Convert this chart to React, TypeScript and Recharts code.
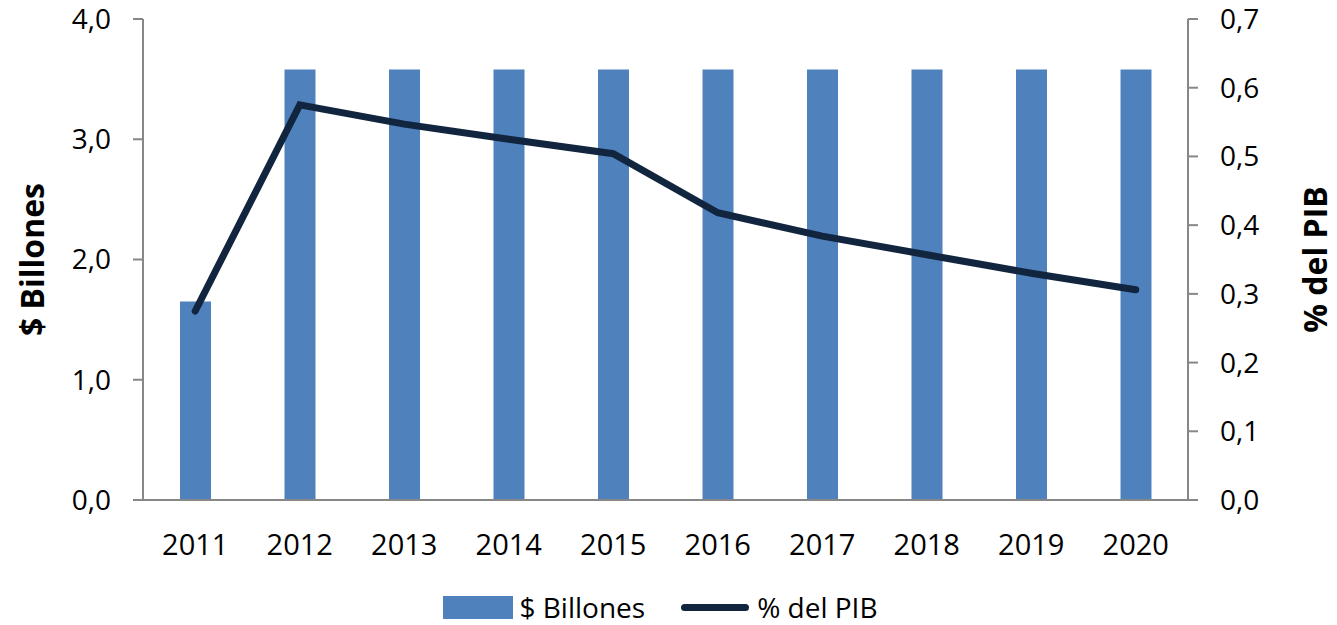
import React from "react";
import { ComposedChart, Bar, Line, XAxis, YAxis, Legend } from "recharts";

const years = ["2011", "2012", "2013", "2014", "2015", "2016", "2017", "2018", "2019", "2020"];
const billones = [1.65, 3.58, 3.58, 3.58, 3.58, 3.58, 3.58, 3.58, 3.58, 3.58];
const pib = [0.275, 0.575, 0.547, 0.525, 0.504, 0.418, 0.384, 0.357, 0.33, 0.306];
const leftTicks = [0, 1, 2, 3, 4];
const rightTicks = [0, 0.1, 0.2, 0.3, 0.4, 0.5, 0.6, 0.7];

const data = years.map((y, i) => ({ year: y, billones: billones[i], pib: pib[i] }));

const FONT = "'Open Sans', sans-serif";
const BAR = "#4F81BD";
const LINE = "#12253F";
const AXIS = "#878787";

const fmt = (v: number) => v.toFixed(1).replace(".", ",");

const LegendContent = () => (
  <div
    style={{
      display: "flex",
      justifyContent: "center",
      alignItems: "center",
      height: 50,
      boxSizing: "border-box",
      paddingTop: 14,
      fontFamily: FONT,
      fontSize: 28,
      color: "#000",
      paddingRight: 16,
    }}
  >
    <div style={{ width: 70, height: 23, background: BAR, marginRight: 6 }} />
    <span style={{ marginRight: 36 }}>$ Billones</span>
    <div style={{ width: 68, height: 7, borderRadius: 4, background: LINE, marginRight: 8 }} />
    <span>% del PIB</span>
  </div>
);

export default function App() {
  return (
    <div style={{ position: "absolute", left: 0, top: 0, width: 1337, height: 625, background: "#fff" }}>
      <ComposedChart
        width={1337}
        height={625}
        data={data}
        margin={{ top: 19, right: 0, bottom: 0, left: 0 }}
        barCategoryGap="35%"
      >
        <XAxis
          dataKey="year"
          tickLine={false}
          tickSize={0}
          tickMargin={34}
          height={75}
          axisLine={{ stroke: AXIS, strokeWidth: 2 }}
          tick={{ fill: "#000", fontSize: 29, fontFamily: FONT }}
          interval={0}
        />
        <YAxis
          yAxisId="left"
          orientation="left"
          width={143}
          domain={[0, 4]}
          ticks={leftTicks}
          tickFormatter={fmt}
          tickSize={10}
          tickMargin={22}
          axisLine={{ stroke: AXIS, strokeWidth: 2 }}
          tickLine={{ stroke: AXIS, strokeWidth: 2 }}
          tick={{ fill: "#000", fontSize: 28, fontFamily: FONT }}
          label={{
            value: "$ Billones",
            angle: -90,
            position: "insideLeft",
            dx: 28,
            style: { fontFamily: FONT, fontSize: 32, fontWeight: 700, fill: "#000", textAnchor: "middle" },
          }}
        />
        <YAxis
          yAxisId="right"
          orientation="right"
          width={149}
          domain={[0, 0.7]}
          ticks={rightTicks}
          tickFormatter={fmt}
          tickSize={10}
          tickMargin={22}
          axisLine={{ stroke: AXIS, strokeWidth: 2 }}
          tickLine={{ stroke: AXIS, strokeWidth: 2 }}
          tick={{ fill: "#000", fontSize: 28, fontFamily: FONT }}
          label={{
            value: "% del PIB",
            angle: -90,
            position: "insideRight",
            dx: -16,
            style: { fontFamily: FONT, fontSize: 32, fontWeight: 700, fill: "#000", textAnchor: "middle" },
          }}
        />
        <Legend verticalAlign="bottom" height={50} content={<LegendContent />} />
        <Bar yAxisId="left" dataKey="billones" name="$ Billones" fill={BAR} barSize={31} isAnimationActive={false} />
        <Line
          yAxisId="right"
          dataKey="pib"
          name="% del PIB"
          stroke={LINE}
          strokeWidth={7}
          strokeLinecap="round"
          strokeLinejoin="miter"
          dot={false}
          activeDot={false}
          type="linear"
          isAnimationActive={false}
        />
      </ComposedChart>
    </div>
  );
}
